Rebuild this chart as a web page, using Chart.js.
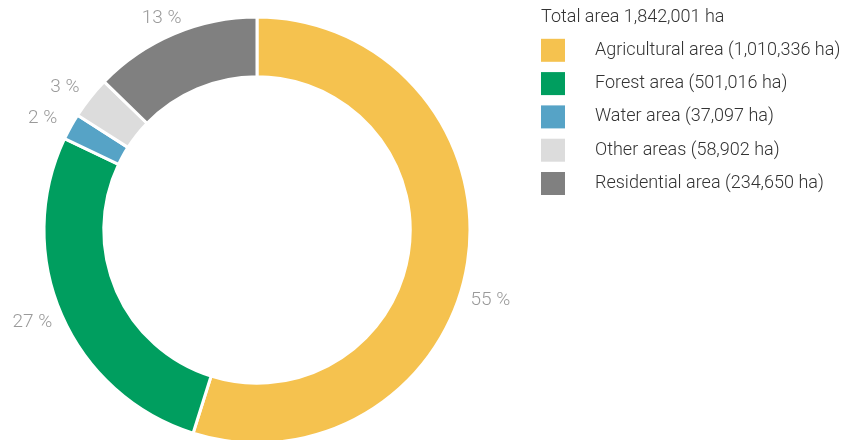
<!DOCTYPE html>
<html>
<head>
<meta charset="utf-8">
<script src="https://cdn.jsdelivr.net/npm/chart.js@4"></script>
<style>
  body { margin: 0; background: #fff; }
  #wrap { width: 854px; height: 440px; position: relative; }
</style>
</head>
<body>
<div id="wrap"><canvas id="graficoArea"></canvas></div>
<script>
// Land use categories (ha)
const categorias = ["Agricultural area", "Forest area", "Water area", "Other areas", "Residential area"];
const hectares = [1010336, 501016, 37097, 58902, 234650];
const percentuais = [55, 27, 2, 3, 13];
const cores = ["#f5c24f", "#009e5f", "#56a3c6", "#dcdcdc", "#808080"];
const tituloLegenda = "Total area 1,842,001 ha";

const fonte = "Roboto, 'DejaVu Sans', sans-serif";
const fmt = n => n.toLocaleString("en-US");

// rótulos de percentual fora do anel
const rotulosPlugin = {
  id: "rotulos",
  afterDatasetsDraw(chart, args, opts) {
    const ctx = chart.ctx;
    const arcos = chart.getDatasetMeta(0).data;
    ctx.save();
    ctx.font = "300 19px " + fonte;
    ctx.fillStyle = "#9a9a9a";
    ctx.textAlign = "center";
    ctx.textBaseline = "middle";
    arcos.forEach((arco, i) => {
      const p = arco.getProps(["x", "y", "startAngle", "endAngle", "outerRadius"], true);
      const meio = (p.startAngle + p.endAngle) / 2 + (opts.ajuste[i] || 0) * Math.PI / 180;
      const x = p.x + Math.cos(meio) * (p.outerRadius + 32);
      const y = p.y + Math.sin(meio) * (p.outerRadius + 17);
      ctx.fillText(percentuais[i] + " %", x, y);
    });
    ctx.restore();
  }
};

// legenda à direita
const legendaPlugin = {
  id: "legenda",
  afterDraw(chart, args, opts) {
    const ctx = chart.ctx;
    ctx.save();
    ctx.font = "300 18px " + fonte;
    ctx.fillStyle = "#333";
    ctx.textBaseline = "middle";
    ctx.fillText(tituloLegenda, opts.x, opts.y);
    categorias.forEach((c, i) => {
      const cy = opts.y + 33.3 * (i + 1);
      ctx.fillStyle = cores[i];
      ctx.fillRect(opts.x, cy - 11.5, 24, 23);
      ctx.fillStyle = "#333";
      ctx.fillText(`${c} (${fmt(hectares[i])} ha)`, opts.x + 54, cy);
    });
    ctx.restore();
  }
};

new Chart(document.getElementById("graficoArea"), {
  type: "doughnut",
  data: {
    labels: categorias,
    datasets: [{
      data: hectares,
      backgroundColor: cores,
      borderColor: "#fff",
      borderWidth: 3,
      clip: false
    }]
  },
  options: {
    responsive: true,
    maintainAspectRatio: false,
    animation: false,
    radius: 213,
    cutout: 150,
    layout: { padding: { left: 0, right: 340, top: 20, bottom: 0 } },
    plugins: {
      legend: { display: false },
      tooltip: { enabled: false },
      rotulos: { ajuste: [9, 0, 0, 0, 0] },
      legenda: { x: 541, y: 17 }
    }
  },
  plugins: [rotulosPlugin, legendaPlugin]
});
</script>
</body>
</html>
